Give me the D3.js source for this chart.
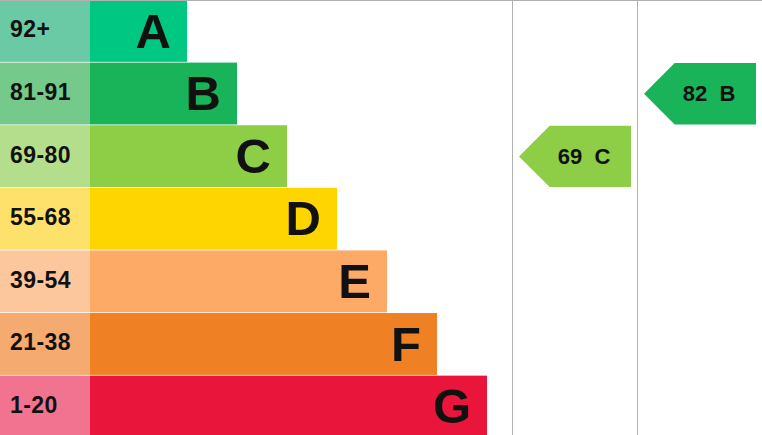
<!DOCTYPE html>
<html>
<head>
<meta charset="utf-8">
<script src="https://cdn.jsdelivr.net/npm/d3@7"></script>
<style>
  html, body { margin: 0; padding: 0; background: #fff; }
  svg { display: block; font-family: "Liberation Sans", Arial, sans-serif; }
</style>
</head>
<body>
<svg id="chart"></svg>
<script>
const WIDTH = 762, HEIGHT = 435;

// data
const bands = ["A", "B", "C", "D", "E", "F", "G"];
const ranges = ["92+", "81-91", "69-80", "55-68", "39-54", "21-38", "1-20"];
const barColors = ["#00c781", "#19b459", "#8dce46", "#ffd500", "#fcaa65", "#ef8023", "#e9153b"];
const labelColors = ["#6bcaa6", "#74c98b", "#b5de8c", "#fee16a", "#fdc79e", "#f5aa70", "#f27390"];
const columns = ["current", "potential"];
const ratings = [
  { column: "current", score: 69, band: "C" },
  { column: "potential", score: 82, band: "B" }
];

const LABEL_W = 90;

const svg = d3.select("#chart")
  .attr("width", WIDTH)
  .attr("height", HEIGHT);

const y = d3.scaleBand().domain(bands).range([0, 437.5]).paddingInner(0.012);
// bar end grows by a fixed step per band
const barEnd = d3.scaleLinear().domain([0, bands.length - 1]).range([187, 487]);
const colX = d3.scaleBand().domain(columns).range([512, WIDTH]);

const rows = svg.append("g").selectAll("g")
  .data(bands)
  .join("g")
  .attr("transform", d => `translate(0,${y(d)})`);

rows.append("rect")
  .attr("x", 0)
  .attr("width", LABEL_W)
  .attr("height", y.bandwidth())
  .attr("fill", (d, i) => labelColors[i]);

rows.append("rect")
  .attr("x", LABEL_W)
  .attr("width", (d, i) => barEnd(i) - LABEL_W)
  .attr("height", y.bandwidth())
  .attr("fill", (d, i) => barColors[i]);

rows.append("text")
  .attr("x", 10)
  .attr("y", y.bandwidth() / 2)
  .attr("dy", "0.28em")
  .attr("font-size", 23)
  .attr("font-weight", "bold")
  .attr("fill", "#111")
  .attr("letter-spacing", 0.4)
  .text((d, i) => ranges[i]);

rows.append("text")
  .attr("x", (d, i) => barEnd(i) - 16)
  .attr("y", y.bandwidth() / 2)
  .attr("dy", "0.34em")
  .attr("text-anchor", "end")
  .attr("font-size", 49)
  .attr("font-weight", "bold")
  .attr("fill", "#111")
  .text(d => d);

// frame lines
svg.append("line")
  .attr("x1", 0).attr("x2", WIDTH)
  .attr("y1", 0.5).attr("y2", 0.5)
  .attr("stroke", "#b0b0b0");

svg.append("g").selectAll("line")
  .data(columns)
  .join("line")
  .attr("x1", d => Math.round(colX(d)) + 0.5)
  .attr("x2", d => Math.round(colX(d)) + 0.5)
  .attr("y1", 0).attr("y2", HEIGHT)
  .attr("stroke", "#b0b0b0");

// rating arrows
const arrows = svg.append("g").selectAll("g")
  .data(ratings)
  .join("g");

arrows.append("path")
  .attr("d", d => {
    const x0 = colX(d.column) + 7;
    const x1 = colX(d.column) + colX.bandwidth() - 6;
    const top = y(d.band) + 0.5;
    const h = y.bandwidth() - 0.5;
    const tip = h / 2;
    return `M${x0},${top + h / 2}L${x0 + tip},${top}L${x1},${top}L${x1},${top + h}L${x0 + tip},${top + h}Z`;
  })
  .attr("fill", d => barColors[bands.indexOf(d.band)]);

arrows.append("text")
  .attr("x", d => colX(d.column) + 72)
  .attr("y", d => y(d.band) + y.bandwidth() / 2)
  .attr("dy", "0.34em")
  .attr("text-anchor", "middle")
  .attr("font-size", 22)
  .attr("font-weight", "bold")
  .attr("fill", "#111")
  .style("white-space", "pre")
  .text(d => `${d.score}  ${d.band}`);
</script>
</body>
</html>
